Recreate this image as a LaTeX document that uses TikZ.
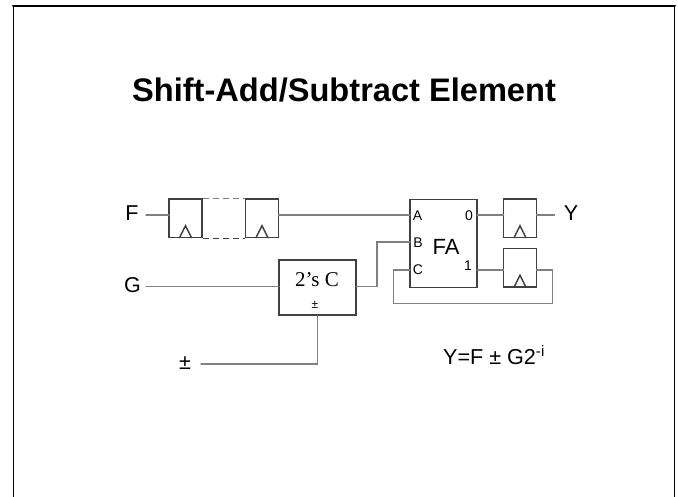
\documentclass[tikz,border=0pt]{standalone}
\usepackage{fontspec}
\setmainfont{Liberation Sans}
\newfontfamily\timesfont{Liberation Serif}
\definecolor{boxgray}{HTML}{404040}
\definecolor{wiregray}{HTML}{808080}
\tikzset{
  ffbox/.style={draw=boxgray, line width=1.5pt, rectangle, minimum width=33pt, minimum height=38.5pt, inner sep=0pt},
  wire/.style={draw=wiregray, line width=1.5pt, line cap=round},
  lbl/.style={inner sep=0pt, font=\fontsize{21.5}{22}\selectfont},
  port/.style={inner sep=0pt, font=\fontsize{14}{14}\selectfont}
}
\begin{document}
\begin{tikzpicture}[x=1pt,y=-1pt, line cap=round]
            \useasboundingbox (0,0) rectangle (678,497);
            %frame, open at the bottom
            \draw[line width=1pt] (13.5,497) -- (13.5,6);
            \draw[line width=2pt] (13,6) -- (675,6);
            \draw[line width=1.2pt] (674.5,6) -- (674.5,497);
            \node[inner sep=0pt, anchor=base, font=\bfseries\fontsize{32.6}{33}\selectfont] (title) at (344,102) {Shift-Add/Subtract Element};

            %blocks
            \node[ffbox] (ffa) at (185.5,218.5) {};
            \node[ffbox] (ffb) at (262,218.5) {};
            \node[ffbox] (ffy) at (520,218.5) {};
            \node[ffbox] (ffc) at (520,268) {};
            \node[ffbox, minimum width=77pt, minimum height=55pt] (twos) at (317.5,287.5) {};
            \node[ffbox, minimum width=67pt, minimum height=88pt] (fa) at (443.5,243.5) {};

            %clock marks
            \foreach \x/\y in {185.5/237.7, 262/237.7, 520/237.7, 520/287.3}
                \draw[draw=boxgray, line width=1.5pt] (\x-6,\y) -- (\x,\y-12) -- (\x+6,\y);

            %free ends and bends
            \coordinate (fin) at (146,215);
            \coordinate (ain) at (410,215);
            \coordinate (ffaw) at (169,215);
            \coordinate (ffbe) at (278.5,215);
            \coordinate (gin) at (146,286.5);
            \coordinate (twow) at (279,286.5);
            \coordinate (twoe) at (356,286.5);
            \coordinate (bbend) at (377,286.5);
            \coordinate (bbendb) at (377,242);
            \coordinate (bin) at (410,242);
            \coordinate (cin) at (410,270);
            \coordinate (cbenda) at (393.5,270);
            \coordinate (cbendb) at (393.5,303.5);
            \coordinate (cbendc) at (552.5,303.5);
            \coordinate (cbendd) at (552.5,270);
            \coordinate (ffce) at (536.5,270);
            \coordinate (ffcw) at (503.5,270);
            \coordinate (faone) at (477,270);
            \coordinate (fazero) at (477,215);
            \coordinate (ffyw) at (503.5,215);
            \coordinate (ffye) at (536.5,215);
            \coordinate (yout) at (554.5,215);
            \coordinate (pmin) at (201,364);
            \coordinate (pmbend) at (317.5,364);

            %wires
            \draw[wire] (fin) -- (ffaw);
            \draw[wire] (ffbe) -- (ain);
            \draw[wire] (gin) -- (twow);
            \draw[wire] (twoe) -- (bbend) -- (bbendb) -- (bin);
            \draw[wire] (cin) -- (cbenda) -- (cbendb) -- (cbendc) -- (cbendd) -- (ffce);
            \draw[wire] (faone) -- (ffcw);
            \draw[wire] (fazero) -- (ffyw);
            \draw[wire] (ffye) -- (yout);
            \draw[wire] (pmin) -- (pmbend) -- (twos.south);

            %dashed links between the two registers
            \draw[draw=wiregray, line width=1.2pt, line cap=butt, dash pattern=on 6pt off 4pt] (ffa.north east) -- (ffb.north west);
            \draw[draw=boxgray, line width=1.2pt, line cap=butt, dash pattern=on 6pt off 4pt] (ffa.south east) -- (ffb.south west);

            %labels
            \node[lbl] (flabel) at (132,213) {F};
            \node[lbl] (glabel) at (132.5,285) {G};
            \node[lbl] (ylabel) at (571,213) {Y};
            \node[lbl] (pmlabel) at (185,363) {±};
            \node[lbl, font=\timesfont\fontsize{21}{21}\selectfont] (twolabel) at (317,280) {2’s C};
            \node[port, font=\fontsize{12}{12}\selectfont] (twopm) at (315,305) {±};
            \node[lbl, font=\fontsize{22}{22}\selectfont] (falabel) at (446,247) {FA};
            \node[port] (alabel) at (417.5,216) {A};
            \node[port] (blabel) at (418,243) {B};
            \node[port] (clabel) at (418,270) {C};
            \node[port] (zlabel) at (469,216) {0};
            \node[port] (olabel) at (468,266) {1};
            \node[lbl, anchor=base, font=\fontsize{21.6}{22}\selectfont] (eqlabel) at (494,364) {Y=F ± G2\textsuperscript{-i}};
            \end{tikzpicture}
\end{document}
